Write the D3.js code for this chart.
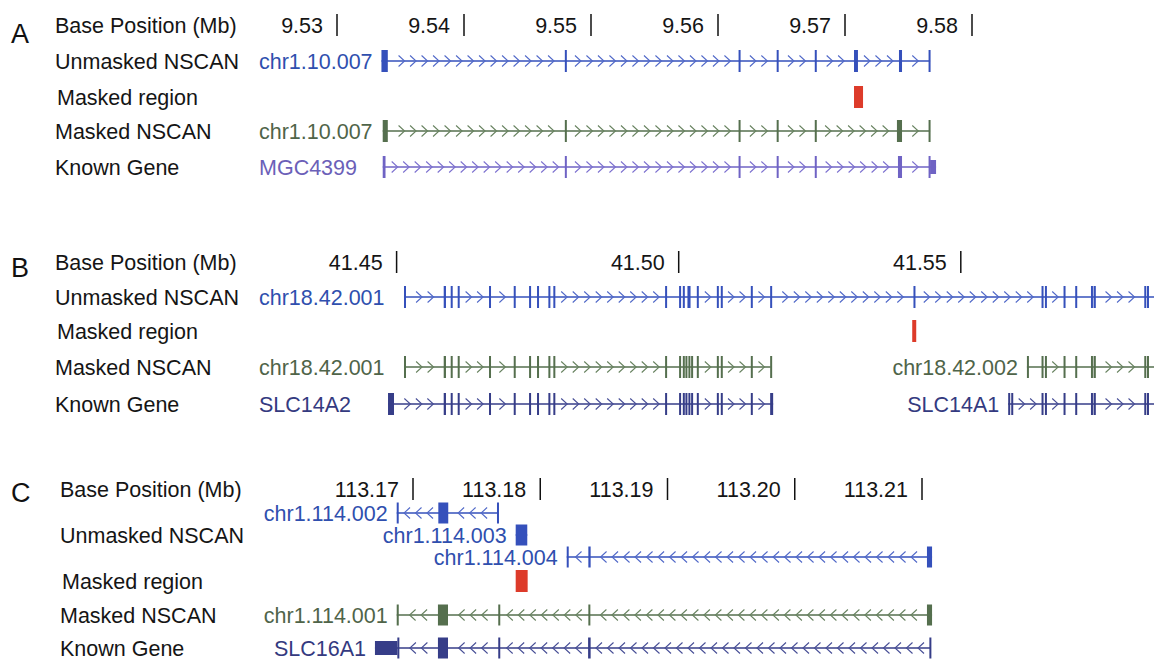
<!DOCTYPE html>
<html>
<head>
<meta charset="utf-8">
<script src="https://cdn.jsdelivr.net/npm/d3@7"></script>
<style>
  body { margin: 0; background: #fff; }
  svg { display: block; font-family: "Liberation Sans", Arial, sans-serif; }
</style>
</head>
<body>
<script>
const width = 1154;
const height = 660;

const trackNames = ['Base Position (Mb)', 'Unmasked NSCAN', 'Masked region', 'Masked NSCAN', 'Known Gene'];
const trackKeys = ['base', 'unmasked', 'masked', 'nscan', 'known'];

// panel A - chr1 ~9.53 Mb
const ticksA = [9.53, 9.54, 9.55, 9.56, 9.57, 9.58];
const maskedA = [[9.57071, 9.57142]];
const genesA = [
  { track: 'unmasked', name: 'chr1.10.007', strand: '+', start: 9.5335, end: 9.5767, labelLeft: true,
    exons: [[9.5335, 9.5340], [9.54794, 9.54806], [9.56162, 9.56174], [9.56462, 9.56474], [9.56762, 9.56774],
            [9.57071, 9.57102], [9.57425, 9.57449], [9.57658, 9.5767]], utr: [] },
  { track: 'nscan', name: 'chr1.10.007', strand: '+', start: 9.5336, end: 9.5767, labelLeft: true,
    exons: [[9.5336, 9.5340], [9.54794, 9.54806], [9.56162, 9.56174], [9.56462, 9.56474], [9.56762, 9.56774],
            [9.57409, 9.57449], [9.57658, 9.5767]], utr: [] },
  { track: 'known', name: 'MGC4399', strand: '+', start: 9.5336, end: 9.57717, labelLeft: true,
    exons: [[9.5336, 9.53382], [9.54794, 9.54806], [9.56162, 9.56174], [9.56462, 9.56474], [9.56762, 9.56774],
            [9.57417, 9.57449], [9.57658, 9.5767]], utr: [[9.5767, 9.57717]] }
];

// panel B - chr18 ~41.5 Mb
const ticksB = [41.45, 41.50, 41.55];
const maskedB = [[41.54139, 41.54210]];
const exonsB1 = [[41.45835, 41.45875], [41.45959, 41.45969], [41.46083, 41.46093], [41.46638, 41.46648],
                 [41.47076, 41.47086], [41.47348, 41.47358], [41.47489, 41.47499], [41.47690, 41.47700],
                 [41.47778, 41.47788], [41.49759, 41.49769], [41.50007, 41.50017], [41.50073, 41.50083]];
const exonsB1tail = [[41.50676, 41.50686], [41.50746, 41.50756], [41.51278, 41.51288]];
const exonsB2 = [[41.56431, 41.56441], [41.56491, 41.56501], [41.56821, 41.56831], [41.57028, 41.57038],
                 [41.57307, 41.57317], [41.57353, 41.57393], [41.58252, 41.58262], [41.58300, 41.58310]];
const genesB = [
  { track: 'unmasked', name: 'chr18.42.001', strand: '+', start: 41.45131, end: 41.6, labelLeft: true,
    exons: [[41.45131, 41.45141], ...exonsB1, [41.50155, 41.50210], [41.50321, 41.50331], ...exonsB1tail,
            [41.51621, 41.51631], [41.54161, 41.54171], ...exonsB2], utr: [] },
  { track: 'nscan', name: 'chr18.42.001', strand: '+', start: 41.45131, end: 41.51631, labelLeft: true,
    exons: [[41.45131, 41.45141], ...exonsB1, [41.50119, 41.50129], [41.50172, 41.50182], [41.50220, 41.50230],
            [41.50321, 41.50331], ...exonsB1tail, [41.51621, 41.51631]], utr: [] },
  { track: 'nscan', name: 'chr18.42.002', strand: '+', start: 41.56172, end: 41.6,
    exons: [[41.56172, 41.56182], ...exonsB2], utr: [] },
  { track: 'known', name: 'SLC14A2', strand: '+', start: 41.44848, end: 41.51674, labelLeft: true,
    exons: [[41.44848, 41.44954], ...exonsB1, [41.50119, 41.50129], [41.50172, 41.50182], [41.50220, 41.50230],
            [41.50321, 41.50331], ...exonsB1tail, [41.51621, 41.51674]], utr: [] },
  { track: 'known', name: 'SLC14A1', strand: '+', start: 41.55840, end: 41.6,
    exons: [[41.55840, 41.55850], [41.55894, 41.55904], ...exonsB2], utr: [] }
];

// panel C - chr1 ~113.19 Mb, minus strand
const ticksC = [113.17, 113.18, 113.19, 113.20, 113.21];
const maskedC = [[113.17807, 113.17901]];
const genesC = [
  { track: 'unmasked', row: 0, name: 'chr1.114.002', strand: '-', start: 113.16872, end: 113.17670,
    exons: [[113.16872, 113.16885], [113.17199, 113.17277], [113.17660, 113.17670]], utr: [] },
  { track: 'unmasked', row: 1, name: 'chr1.114.003', strand: '-', start: 113.17807, end: 113.17898,
    exons: [[113.17807, 113.17898]], utr: [] },
  { track: 'unmasked', row: 2, name: 'chr1.114.004', strand: '-', start: 113.18208, end: 113.21079,
    exons: [[113.18208, 113.18216], [113.18378, 113.18396], [113.21039, 113.21079]], utr: [] },
  { track: 'nscan', name: 'chr1.114.001', strand: '-', start: 113.16872, end: 113.21079,
    exons: [[113.16872, 113.16888], [113.17196, 113.17275], [113.17670, 113.17680], [113.18378, 113.18393],
            [113.21039, 113.21079]], utr: [] },
  { track: 'known', name: 'SLC16A1', strand: '-', start: 113.16701, end: 113.21068,
    exons: [[113.16877, 113.16889], [113.17196, 113.17275], [113.17670, 113.17680], [113.18376, 113.18396],
            [113.21058, 113.21068]], utr: [[113.16701, 113.16877]] }
];

const colors = {
  unmasked: { line: '#3550bb', chev: '#5068c8', text: '#2f4fae' },
  nscan: { line: '#556f4e', chev: '#67825f', text: '#4f6449' },
  knownA: { line: '#6f63c4', chev: '#7c70cf', text: '#6b60b8' },
  knownB: { line: '#363d88', chev: '#474e96', text: '#343a80' },
  masked: '#dd3b2a'
};

const panels = [
  { letter: 'A', ticks: ticksA, genes: genesA, masked: maskedA, domain: [9.53, 9.58], range: [337, 972],
    rows: [25, 61, 97, 131, 167], letterY: 34, labelX: 55, exonH: 22, known: 'knownA' },
  { letter: 'B', ticks: ticksB, genes: genesB, masked: maskedB, domain: [41.45, 41.55], range: [396.6, 960.8],
    rows: [262, 297, 331, 367, 404], letterY: 268, labelX: 55, exonH: 22, known: 'knownB' },
  { letter: 'C', ticks: ticksC, genes: genesC, masked: maskedC, domain: [113.17, 113.21], range: [413, 922],
    rows: [489, 535, 581, 615, 648], letterY: 493, labelX: 60, exonH: 21, known: 'knownB', subRow: 22 }
];

const fontSize = 21.5;
const svg = d3.select('body').append('svg').attr('width', width).attr('height', height);
const fmt = d3.format('.2f');

panels.forEach(p => drawPanel(p));

function drawPanel(p) {
  const g = svg.append('g');
  const x = d3.scaleLinear().domain(p.domain).range(p.range);

  g.append('text')
    .attr('x', 11).attr('y', p.letterY).attr('dy', '0.35em')
    .attr('font-size', 27).attr('fill', '#111')
    .text(p.letter);

  g.selectAll('.track-name')
    .data(trackNames)
    .enter()
    .append('text')
    .attr('class', 'track-name')
    .attr('x', (d, i) => p.labelX + (i === 2 ? 2 : 0))
    .attr('y', (d, i) => p.rows[i])
    .attr('dy', '0.35em')
    .attr('font-size', fontSize)
    .attr('fill', '#151515')
    .text(d => d);

  // base position ruler
  const tick = g.selectAll('.tick').data(p.ticks).enter().append('g').attr('class', 'tick');
  tick.append('line')
    .attr('x1', d => x(d)).attr('x2', d => x(d))
    .attr('y1', p.rows[0] - 11).attr('y2', p.rows[0] + 11)
    .attr('stroke', '#111').attr('stroke-width', 1.5);
  tick.append('text')
    .attr('x', d => x(d) - 14).attr('y', p.rows[0]).attr('dy', '0.35em')
    .attr('text-anchor', 'end').attr('font-size', fontSize).attr('fill', '#151515')
    .text(d => fmt(d));

  // masked regions
  g.selectAll('.mask')
    .data(p.masked)
    .enter()
    .append('rect')
    .attr('x', d => x(d[0]))
    .attr('width', d => Math.max(3, x(d[1]) - x(d[0])))
    .attr('y', p.rows[2] - 11)
    .attr('height', 22)
    .attr('fill', colors.masked);

  p.genes.forEach(gene => drawGene(g, x, p, gene));
}

function drawGene(g, x, p, gene) {
  const ti = trackKeys.indexOf(gene.track);
  const c = gene.track === 'known' ? colors[p.known] : colors[gene.track];
  let y = p.rows[ti];
  if (gene.row !== undefined) y += (gene.row - 1) * p.subRow;
  const h = p.exonH;
  const x0 = x(gene.start);
  const x1 = Math.min(width + 5, x(gene.end));

  g.append('line')
    .attr('x1', x0).attr('x2', x1).attr('y1', y).attr('y2', y)
    .attr('stroke', c.line).attr('stroke-width', 1.5);

  // chevrons in the gaps between exons
  const blocks = gene.exons.concat(gene.utr)
    .map(d => [x(d[0]), Math.max(x(d[1]), x(d[0]) + 2)])
    .sort((a, b) => a[0] - b[0]);
  const chevX = [];
  const step = 11.5;
  for (let i = 0; i < blocks.length; i++) {
    const a = blocks[i][1];
    const b = i + 1 < blocks.length ? blocks[i + 1][0] : x1;
    const len = b - a;
    const n = Math.floor((len - 5) / step);
    if (n < 1) continue;
    const off = a + (len - (n - 1) * step) / 2;
    for (let k = 0; k < n; k++) chevX.push(off + k * step);
  }
  const dir = gene.strand === '+' ? 1 : -1;
  g.selectAll(null)
    .data(chevX)
    .enter()
    .append('path')
    .attr('d', d => `M${d - 3 * dir},${y - 5.5}L${d + 3 * dir},${y}L${d - 3 * dir},${y + 5.5}`)
    .attr('fill', 'none')
    .attr('stroke', c.chev)
    .attr('stroke-width', 1.1);

  g.selectAll(null)
    .data(gene.exons)
    .enter()
    .append('rect')
    .attr('x', d => x(d[0]))
    .attr('width', d => Math.max(2, x(d[1]) - x(d[0])))
    .attr('y', y - h / 2)
    .attr('height', h)
    .attr('fill', c.line);

  g.selectAll(null)
    .data(gene.utr)
    .enter()
    .append('rect')
    .attr('x', d => x(d[0]))
    .attr('width', d => x(d[1]) - x(d[0]))
    .attr('y', y - 7)
    .attr('height', 14)
    .attr('fill', c.line);

  const label = g.append('text')
    .attr('y', y).attr('dy', '0.35em')
    .attr('font-size', fontSize)
    .attr('fill', c.text)
    .text(gene.name);
  if (gene.labelLeft) {
    label.attr('x', 259);
  } else {
    label.attr('x', x0 - 9).attr('text-anchor', 'end');
  }
}
</script>
</body>
</html>
